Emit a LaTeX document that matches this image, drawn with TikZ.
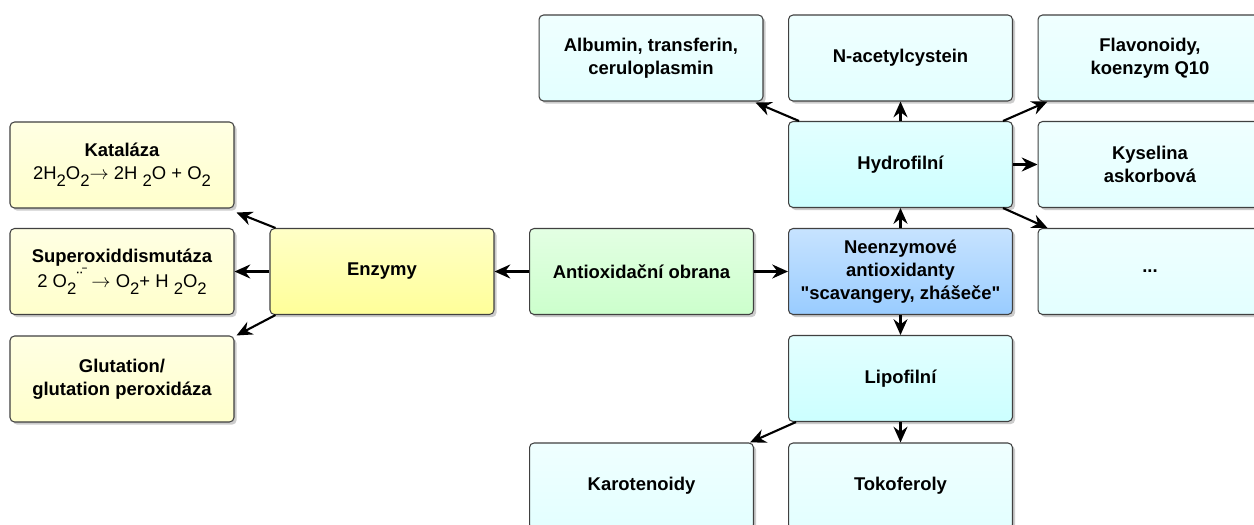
\documentclass[tikz,border=0pt]{standalone}
\usepackage{fontspec}
\setmainfont{Liberation Sans}
\usetikzlibrary{arrows.meta, shadows, calc}

\definecolor{enzfill}{HTML}{FFFF99}
\definecolor{enzleaf}{HTML}{FFFFCC}
\definecolor{rootfill}{HTML}{CCFFCC}
\definecolor{neenzfill}{HTML}{99CCFF}
\definecolor{groupfill}{HTML}{CCFFFF}
\definecolor{itemfill}{HTML}{E3FFFF}

\newcommand{\idx}[1]{\raisebox{-0.7ex}{\fontsize{9.5}{9.5}\selectfont #1}}
\newcommand{\rad}{\raisebox{1.1ex}{\fontsize{6}{6}\selectfont\bfseries ··\kern-0.05em‾}}
\newcommand{\yields}{$\rightarrow$}

\begin{document}
\begin{tikzpicture}[x=0.02cm, y=-0.02cm,
		box/.style={draw=black!75, line width=0.6pt, rounded corners=0.09cm,
			minimum width=4.48cm, minimum height=1.72cm, align=center,
			font=\fontsize{10.5}{13}\selectfont\bfseries,
			drop shadow={shadow xshift=1.5pt, shadow yshift=-1.5pt, opacity=0.4}},
		shade/.style={top color=white!45!#1, middle color=#1, bottom color=#1},
		enzleafbox/.style={box, shade=enzleaf},
		enzbox/.style={box, shade=enzfill},
		rootbox/.style={box, shade=rootfill},
		neenzbox/.style={box, shade=neenzfill},
		groupbox/.style={box, shade=groupfill},
		itembox/.style={box, shade=itemfill},
		arr/.style={-{Stealth[length=9pt, width=8pt, inset=3pt]}, line width=1.2pt}]
		\clip (0,0) rectangle (1254,524);
		\fill[white] (0,0) rectangle (1254,524);
		\node[enzleafbox] (kat) at (122,165) {Kataláza\\\mdseries 2H\idx{2}O\idx{2}\yields\ 2H \idx{2}O + O\idx{2}};
		\node[enzleafbox] (sod) at (122,271.5) {Superoxiddismutáza\\\mdseries 2 O\idx{2}\rad\ \yields\ O\idx{2}+ H \idx{2}O\idx{2}};
		\node[enzleafbox] (glu) at (122,379) {Glutation/\\glutation peroxidáza};
		\node[enzbox] (enz) at (382,271.5) {Enzymy};
		\node[rootbox] (obr) at (641.5,271.5) {Antioxidační obrana};
		\node[neenzbox] (neenz) at (900.5,271.5) {Neenzymové\\antioxidanty\\\textquotedbl scavangery, zhášeče\textquotedbl};
		\node[groupbox] (hyd) at (900.5,164.5) {Hydrofilní};
		\node[groupbox] (lip) at (900.5,378.5) {Lipofilní};
		\node[itembox] (alb) at (651,58) {Albumin, transferin,\\ceruloplasmin};
		\node[itembox] (nac) at (900.5,58) {N-acetylcystein};
		\node[itembox] (fla) at (1150,58) {Flavonoidy,\\koenzym Q10};
		\node[itembox] (kys) at (1150,164.5) {Kyselina\\askorbová};
		\node[itembox] (dots) at (1150,271.5) {...};
		\node[itembox] (kar) at (641.5,486) {Karotenoidy};
		\node[itembox] (tok) at (900.5,486) {Tokoferoly};
		\draw[arr] (obr.west) -- (enz.east);
		\draw[arr] (obr.east) -- (neenz.west);
		\draw[arr] ($(enz.north west)+(6,0)$) -- ($(kat.south east)+(2,4)$);
		\draw[arr] (enz.west) -- (sod.east);
		\draw[arr] ($(enz.south west)+(6,0)$) -- ($(glu.north east)+(2,0)$);
		\draw[arr] (neenz.north) -- (hyd.south);
		\draw[arr] (neenz.south) -- (lip.north);
		\draw[arr] (hyd.north) -- (nac.south);
		\draw[arr] ($(hyd.north west)+(11,0)$) -- ($(alb.south east)+(-8,1)$);
		\draw[arr] ($(hyd.north east)+(-10,0)$) -- ($(fla.south west)+(10,0)$);
		\draw[arr] (hyd.east) -- (kys.west);
		\draw[arr] ($(hyd.south east)+(-10,0)$) -- ($(dots.north west)+(10,0)$);
		\draw[arr] ($(lip.south west)+(8,0)$) -- ($(kar.north east)+(-4,0)$);
		\draw[arr] (lip.south) -- (tok.north);
\end{tikzpicture}
\end{document}
